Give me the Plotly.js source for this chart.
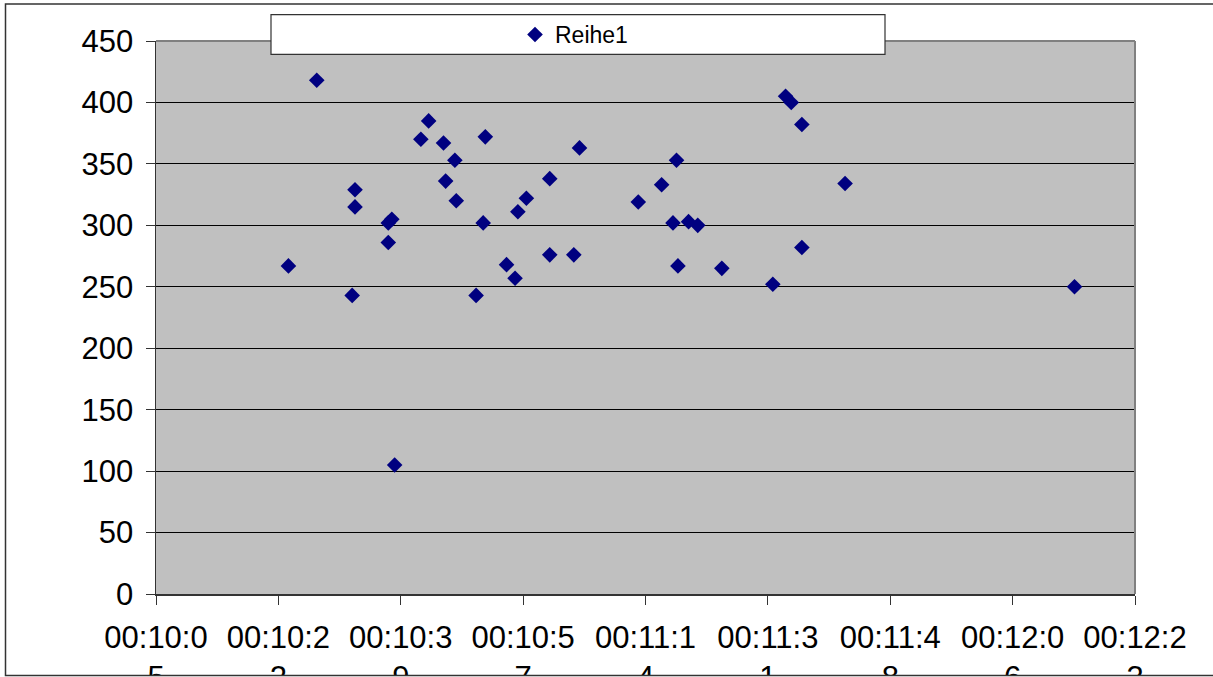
<!DOCTYPE html>
<html>
<head>
<meta charset="utf-8">
<script src="https://cdn.plot.ly/plotly-3.0.1.min.js"></script>
<style>
  html, body { margin: 0; padding: 0; background: #ffffff; }
  #chart { width: 1213px; height: 677px; }
</style>
</head>
<body>
<div id="chart"></div>
<script>
// ---- data ----
const seriesName = "Reihe1";
const times = [
  "00:10:23.5", "00:10:27.5", "00:10:32.5", "00:10:32.9", "00:10:32.9",
  "00:10:37.6", "00:10:37.6", "00:10:38.1", "00:10:38.5", "00:10:42.2",
  "00:10:43.3", "00:10:45.4", "00:10:45.7", "00:10:47.0", "00:10:47.2",
  "00:10:50.0", "00:10:51.0", "00:10:51.3", "00:10:54.3", "00:10:55.5",
  "00:10:55.9", "00:10:57.1", "00:11:00.4", "00:11:00.4", "00:11:03.8",
  "00:11:04.6", "00:11:12.9", "00:11:16.2", "00:11:17.8", "00:11:18.3",
  "00:11:18.5", "00:11:20.0", "00:11:21.3", "00:11:24.7", "00:11:31.9",
  "00:11:33.7", "00:11:34.5", "00:11:36.0", "00:11:36.0", "00:11:42.1",
  "00:12:14.5"
];
const values = [
  267, 418, 243, 329, 315,
  302, 286, 305, 105, 370,
  385, 367, 336, 353, 320,
  243, 302, 372, 268, 257,
  311, 322, 338, 276, 276,
  363, 319, 333, 302, 353,
  267, 303, 300, 265, 252,
  405, 400, 382, 282, 334,
  250
];
const xTickLabels = ["00:10:05", "00:10:22", "00:10:39", "00:10:57", "00:11:14",
                     "00:11:31", "00:11:48", "00:12:06", "00:12:23"];
const yTickValues = [0, 50, 100, 150, 200, 250, 300, 350, 400, 450];

// ---- helpers ----
function toSeconds(t) {
  const p = t.split(":").map(Number);
  return p[0] * 3600 + p[1] * 60 + p[2];
}
const xs = times.map(toSeconds);

// Excel time axis: min 0.007 day, major unit 0.0002 day
const DAY = 86400;
const xMin = 0.007 * DAY, xStep = 0.0002 * DAY;
const xTickVals = xTickLabels.map((_, i) => xMin + i * xStep);
const xMax = xTickVals[xTickVals.length - 1];
// Excel wraps "00:10:05" into "00:10:0" / "5"
const xTickText = xTickLabels.map(s => s.slice(0, 7) + "<br>" + s.slice(7));

// plot-area geometry (pixels)
const W = 1213, H = 677;
const L = 156, R = 1135, T = 41, B = 594;
const px = x => (x - L) / (R - L);
const py = y => (B - y) / (B - T);

const FONT = "Liberation Sans, Arial, sans-serif";

const trace = {
  type: "scatter",
  mode: "markers",
  name: seriesName,
  x: xs,
  y: values,
  marker: { symbol: "diamond", size: 12, color: "#000080", line: { width: 0 } },
  cliponaxis: false,
  showlegend: true
};

const layout = {
  width: W, height: H,
  margin: { l: L, r: W - R, t: T, b: H - B, pad: 0 },
  paper_bgcolor: "#ffffff",
  plot_bgcolor: "#C0C0C0",
  font: { family: FONT, color: "#000000", size: 31 },
  showlegend: true,
  legend: {
    x: px(574), y: py(34.5), xanchor: "center", yanchor: "middle",
    bgcolor: "rgba(0,0,0,0)", borderwidth: 0,
    font: { family: FONT, size: 23, color: "#000000" }
  },
  xaxis: {
    range: [xMin, xMax],
    tickmode: "array", tickvals: xTickVals, ticktext: xTickText,
    ticks: "outside", ticklen: 9, tickwidth: 1, tickcolor: "#333333",
    ticklabelstandoff: 6,
    showline: true, linecolor: "#333333", linewidth: 1.5,
    showgrid: false, zeroline: false,
    tickfont: { family: FONT, size: 31, color: "#000000" },
    tickangle: 0, fixedrange: true
  },
  yaxis: {
    range: [0, 450],
    tickmode: "array", tickvals: yTickValues,
    ticktext: yTickValues.map(String),
    ticks: "outside", ticklen: 9, tickwidth: 1, tickcolor: "#333333",
    ticklabelstandoff: 6,
    showline: true, linecolor: "#333333", linewidth: 1.5,
    showgrid: true, gridcolor: "#000000", gridwidth: 1,
    zeroline: false,
    tickfont: { family: FONT, size: 31, color: "#000000" },
    fixedrange: true
  },
  shapes: [
    // top and right border of plot area (gray)
    { type: "line", xref: "paper", yref: "paper", x0: 0, x1: 1, y0: 1, y1: 1,
      line: { color: "#808080", width: 2 }, layer: "above" },
    { type: "line", xref: "paper", yref: "paper", x0: 1, x1: 1, y0: 0, y1: 1,
      line: { color: "#808080", width: 2 }, layer: "above" },
    // white strip clipping the wrapped labels under the chart frame
    { type: "rect", xref: "paper", yref: "paper",
      x0: px(0), x1: px(W + 10), y0: py(675.5), y1: py(H + 30),
      fillcolor: "#ffffff", line: { width: 0 }, layer: "above" },
    // outer chart frame
    { type: "rect", xref: "paper", yref: "paper",
      x0: px(5.5), x1: px(W + 20), y0: py(675.5), y1: py(4),
      fillcolor: "rgba(0,0,0,0)", line: { color: "#333333", width: 1.5 }, layer: "above" },
    // legend box
    { type: "rect", xref: "paper", yref: "paper",
      x0: px(271), x1: px(885), y0: py(54.3), y1: py(14.7),
      fillcolor: "#ffffff", line: { color: "#333333", width: 1.2 }, layer: "above" }
  ]
};

Plotly.newPlot("chart", [trace], layout, { displayModeBar: false, staticPlot: true });
</script>
</body>
</html>
